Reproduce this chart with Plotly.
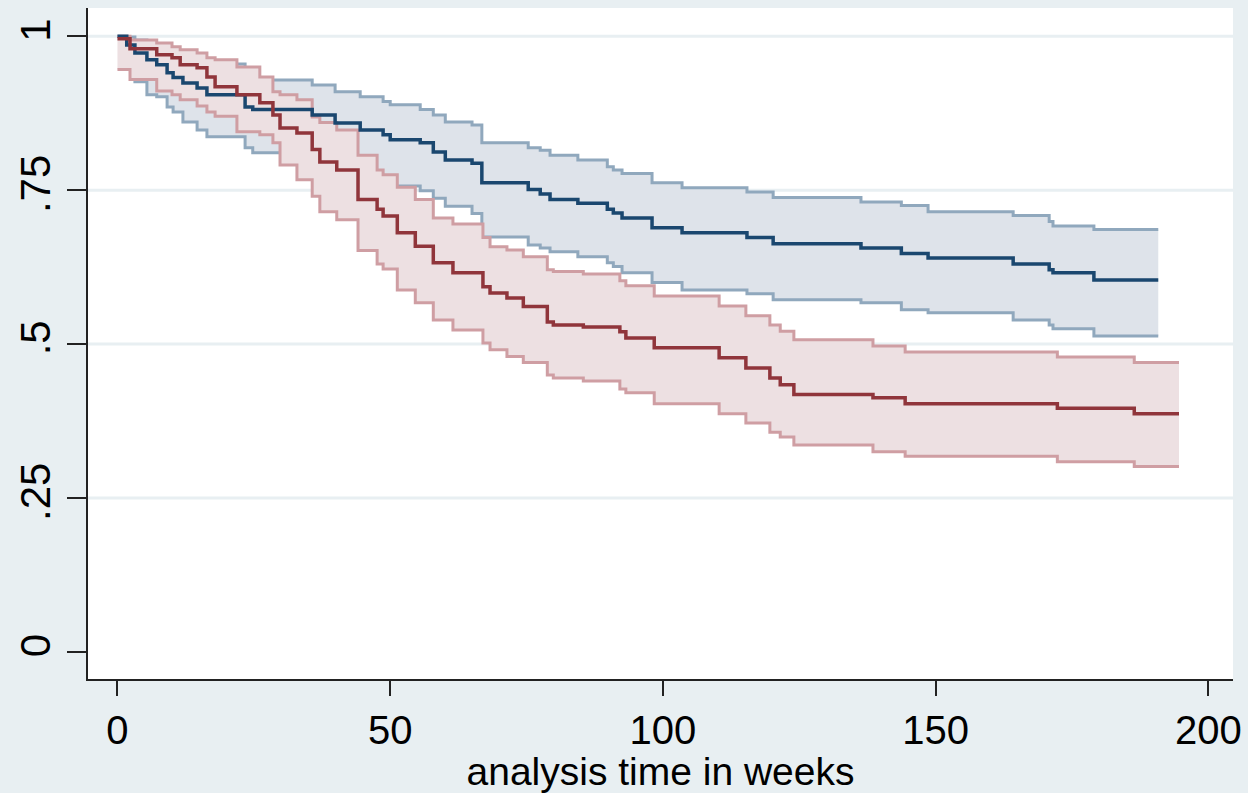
import plotly.graph_objects as go

# ---- data ----
blue_t = [0, 1.7, 3.2, 5.4, 7.2, 9.1, 10.2, 12.0, 14.6, 16.4, 23.4, 24.8, 35.7, 39.9, 44.5,
          48.7, 50.0, 55.5, 57.9, 60.1, 65.0, 66.8, 75.3, 77.5, 79.3, 84.4, 89.8, 90.9, 92.5,
          98.0, 103.5, 115.4, 120.2, 136.3, 143.7, 148.6, 164.2, 170.8, 171.5, 179.0]
blue_end = 190.8
blue_s = [1.0, 0.986, 0.973, 0.962, 0.954, 0.941, 0.933, 0.924, 0.916, 0.905, 0.885, 0.881,
          0.872, 0.859, 0.848, 0.840, 0.832, 0.827, 0.812, 0.799, 0.794, 0.762, 0.751, 0.744,
          0.735, 0.729, 0.719, 0.713, 0.705, 0.689, 0.681, 0.673, 0.663, 0.656, 0.647, 0.640,
          0.630, 0.621, 0.616, 0.604]

blue_ci_t = blue_t[1:]
blue_hi = [0.999, 0.994, 0.986, 0.981, 0.975, 0.972, 0.968, 0.962, 0.955, 0.937, 0.929, 0.921,
           0.910, 0.902, 0.894, 0.889, 0.881, 0.872, 0.861, 0.856, 0.827, 0.819, 0.815, 0.807,
           0.799, 0.788, 0.783, 0.777, 0.762, 0.754, 0.747, 0.738, 0.731, 0.725, 0.715, 0.709,
           0.699, 0.692, 0.686]
blue_lo = [0.959, 0.926, 0.905, 0.902, 0.885, 0.877, 0.861, 0.848, 0.837, 0.819, 0.811, 0.791,
           0.780, 0.770, 0.760, 0.757, 0.749, 0.737, 0.724, 0.712, 0.674, 0.661, 0.656, 0.650,
           0.642, 0.632, 0.626, 0.616, 0.600, 0.588, 0.582, 0.572, 0.567, 0.556, 0.551, 0.539,
           0.531, 0.525, 0.513]

red_t = [0, 2.3, 7.2, 10.0, 11.5, 14.6, 16.4, 17.9, 21.9, 26.1, 28.5, 29.8, 32.9, 35.7, 37.1,
         40.2, 44.1, 47.6, 48.7, 51.3, 54.6, 57.9, 61.5, 67.0, 68.3, 71.4, 74.4, 78.8, 79.9,
         85.4, 92.1, 93.2, 98.4, 110.3, 115.2, 119.6, 121.5, 124.0, 138.5, 144.4, 172.3, 186.4]
red_end = 194.6
red_s = [0.996, 0.980, 0.970, 0.965, 0.954, 0.949, 0.934, 0.918, 0.905, 0.892, 0.872, 0.851,
         0.843, 0.816, 0.796, 0.783, 0.735, 0.719, 0.708, 0.681, 0.659, 0.632, 0.616, 0.593,
         0.583, 0.575, 0.561, 0.536, 0.531, 0.528, 0.520, 0.510, 0.494, 0.478, 0.461, 0.445,
         0.434, 0.418, 0.413, 0.403, 0.396, 0.387]
red_hi = [1.0, 0.994, 0.989, 0.983, 0.978, 0.973, 0.965, 0.962, 0.950, 0.934, 0.910, 0.905,
          0.897, 0.869, 0.860, 0.848, 0.807, 0.783, 0.775, 0.755, 0.735, 0.705, 0.695, 0.673,
          0.658, 0.653, 0.642, 0.621, 0.618, 0.614, 0.603, 0.595, 0.578, 0.562, 0.546, 0.531,
          0.521, 0.507, 0.497, 0.487, 0.479, 0.470]
red_lo = [0.946, 0.930, 0.911, 0.905, 0.897, 0.887, 0.877, 0.870, 0.845, 0.840, 0.827, 0.791,
          0.767, 0.740, 0.715, 0.702, 0.652, 0.630, 0.622, 0.588, 0.567, 0.539, 0.523, 0.502,
          0.491, 0.480, 0.470, 0.450, 0.445, 0.440, 0.427, 0.421, 0.403, 0.387, 0.372, 0.357,
          0.349, 0.336, 0.325, 0.318, 0.309, 0.301]

x_ticks = [0, 50, 100, 150, 200]
y_ticks = [0, 0.25, 0.5, 0.75, 1]
y_tick_text = ["0", ".25", ".5", ".75", "1"]
x_title = "analysis time in weeks"

# ---- styles ----
BLUE = "#1a476f"
BLUE_CI = "#90a8bd"
BLUE_FILL = "#dee3ea"
RED = "#90353b"
RED_CI = "#cf9ea3"
RED_FILL = "#ede0e2"
BG = "#e8eff2"
FONT = "Liberation Sans, Arial, sans-serif"


def ext(t, v, end):
    return list(t) + [end], list(v) + [v[-1]]


fig = go.Figure()

# blue band
bx, blo = ext(blue_ci_t, blue_lo, blue_end)
_, bhi = ext(blue_ci_t, blue_hi, blue_end)
fig.add_trace(go.Scatter(x=bx, y=blo, mode="lines", line=dict(width=0, shape="hv"),
                         showlegend=False, hoverinfo="skip"))
fig.add_trace(go.Scatter(x=bx, y=bhi, mode="lines", line=dict(width=0, shape="hv"),
                         fill="tonexty", fillcolor=BLUE_FILL, showlegend=False, hoverinfo="skip"))
fig.add_trace(go.Scatter(x=bx, y=blo, mode="lines", line=dict(width=3, shape="hv", color=BLUE_CI),
                         showlegend=False))
fig.add_trace(go.Scatter(x=bx, y=bhi, mode="lines", line=dict(width=3, shape="hv", color=BLUE_CI),
                         showlegend=False))

# red band
rx, rlo = ext(red_t, red_lo, red_end)
_, rhi = ext(red_t, red_hi, red_end)
fig.add_trace(go.Scatter(x=rx, y=rlo, mode="lines", line=dict(width=0, shape="hv"),
                         showlegend=False, hoverinfo="skip"))
fig.add_trace(go.Scatter(x=rx, y=rhi, mode="lines", line=dict(width=0, shape="hv"),
                         fill="tonexty", fillcolor=RED_FILL, showlegend=False, hoverinfo="skip"))
fig.add_trace(go.Scatter(x=rx, y=rlo, mode="lines", line=dict(width=3, shape="hv", color=RED_CI),
                         showlegend=False))
fig.add_trace(go.Scatter(x=rx, y=rhi, mode="lines", line=dict(width=3, shape="hv", color=RED_CI),
                         showlegend=False))

# estimates
ex, es = ext(blue_t, blue_s, blue_end)
fig.add_trace(go.Scatter(x=ex, y=es, mode="lines", line=dict(width=3.5, shape="hv", color=BLUE),
                         showlegend=False))
ex, es = ext(red_t, red_s, red_end)
fig.add_trace(go.Scatter(x=ex, y=es, mode="lines", line=dict(width=3.5, shape="hv", color=RED),
                         showlegend=False))

# horizontal grid lines (not at 0)
for yv in y_ticks[1:]:
    fig.add_shape(type="line", xref="paper", yref="y", x0=0, x1=1, y0=yv, y1=yv,
                  line=dict(color=BG, width=3), layer="below")

fig.update_layout(
    width=1248, height=793,
    margin=dict(l=88, r=15, t=8, b=114),
    paper_bgcolor=BG, plot_bgcolor="white",
    font=dict(family=FONT, color="black"),
    showlegend=False,
)
fig.update_xaxes(
    range=[-5.4, 204.5], tickvals=x_ticks, ticks="outside", ticklen=15, tickwidth=2,
    tickcolor="#222", showline=True, linecolor="#222", linewidth=2, showgrid=False,
    zeroline=False, tickfont=dict(size=40, family=FONT), ticklabelstandoff=0,
    automargin=False,
    title=dict(text=x_title, font=dict(size=39, family=FONT), standoff=0),
)
fig.update_yaxes(
    range=[-0.044, 1.046], tickvals=y_ticks, ticktext=y_tick_text, ticks="outside",
    ticklen=19, tickwidth=2, tickcolor="#222", showline=True, linecolor="#222",
    linewidth=2, showgrid=False, zeroline=False, tickangle=-90, automargin=False,
    tickfont=dict(size=42, family=FONT), ticklabelstandoff=0,
)

fig.write_html(
    "out.html",
    config={"displayModeBar": False},
    post_script="document.body.style.margin='0';document.body.style.overflow='hidden';"
                "document.body.style.background='#e8eff2';",
)
